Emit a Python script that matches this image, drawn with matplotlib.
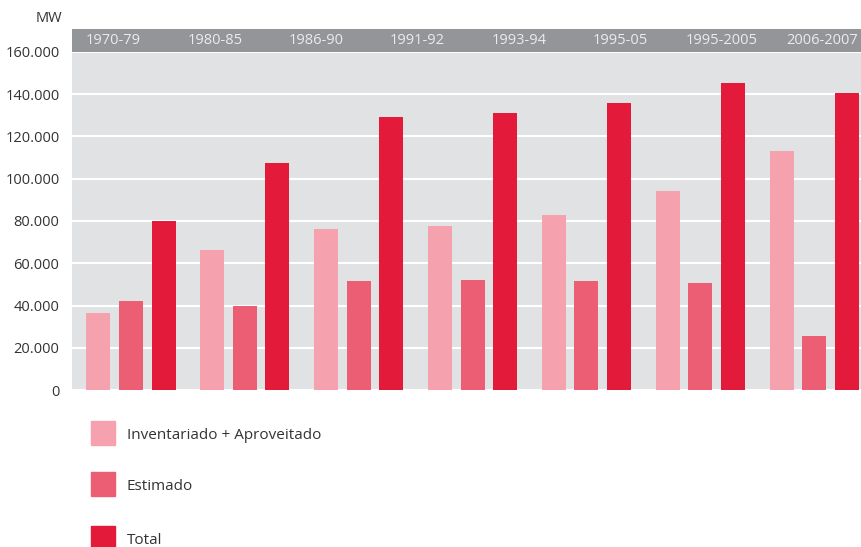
import matplotlib
matplotlib.use("Agg")
import matplotlib.pyplot as plt
import numpy as np
from matplotlib.patches import Rectangle

# ---- data ----
header_labels = ["1970-79", "1980-85", "1986-90", "1991-92", "1993-94",
                 "1995-05", "1995-2005", "2006-2007"]
inventariado = [36500, 66500, 76000, 77500, 83000, 94000, 113000]
estimado = [42000, 40000, 51800, 52200, 51800, 50800, 25500]
total = [80000, 107500, 129000, 131000, 136000, 145500, 140800]
series_names = ["Inventariado + Aproveitado", "Estimado", "Total"]
yticks = [0, 20000, 40000, 60000, 80000, 100000, 120000, 140000, 160000]
ytick_labels = ["0", "20.000", "40.000", "60.000", "80.000", "100.000",
                "120.000", "140.000", "160.000"]

colors = ["#f5a2ae", "#eb5e74", "#e31a3a"]
FONT = "Open Sans"

W, H = 862, 547
fig = plt.figure(figsize=(W / 100, H / 100), dpi=100)

def fx(px):
    return px / W

def fy(py):
    return 1 - py / H

# main axes
ax_left, ax_right, ax_top, ax_bot = 72, 862, 52, 390
ax = fig.add_axes([fx(ax_left), fy(ax_bot), fx(ax_right - ax_left), (ax_bot - ax_top) / H])
ax.set_facecolor("#e1e2e4")
x = np.arange(len(total))
w = 0.211
off = 0.286
ax.set_axisbelow(True)
ax.yaxis.grid(True, color="white", linewidth=1.5)
ax.bar(x - off, inventariado, w, color=colors[0], zorder=3)
ax.bar(x, estimado, w, color=colors[1], zorder=3)
ax.bar(x + off, total, w, color=colors[2], zorder=3)
ax.set_xlim(-0.518, 6.42)
ax.set_ylim(0, 160000)
ax.set_xticks([])
ax.set_yticks(yticks)
ax.set_yticklabels(ytick_labels, fontsize=10.5, color="#333333", family=FONT)
ax.tick_params(axis="y", length=0, pad=9)
for s in ax.spines.values():
    s.set_visible(False)

# header band
hb = fig.add_axes([fx(72), fy(52), fx(790), 23 / H])
hb.set_facecolor("#939598")
hb.set_xticks([])
hb.set_yticks([])
for s in hb.spines.values():
    s.set_visible(False)
hb.set_xlim(0, W)
hb.set_ylim(0, 1)
for i, lab in enumerate(header_labels):
    cx = 113.5 + 101.3 * i
    fig.text(fx(cx), fy(41), lab, ha="center", va="center", fontsize=10.5,
             color="#ebebeb", family=FONT)

fig.text(fx(62), fy(19), "MW", ha="right", va="center", fontsize=10.5,
         color="#333333", family=FONT)

# legend
leg_y = [433, 484, 538]
for name, c, yc in zip(series_names, colors, leg_y):
    fig.patches.append(Rectangle((fx(91), fy(yc + 12)), fx(24), 24 / H,
                                 transform=fig.transFigure, color=c, figure=fig))
    fig.text(fx(127), fy(yc + 2.5), name, ha="left", va="center", fontsize=11,
             color="#333333", family=FONT)

fig.savefig("out.png", dpi=100)
